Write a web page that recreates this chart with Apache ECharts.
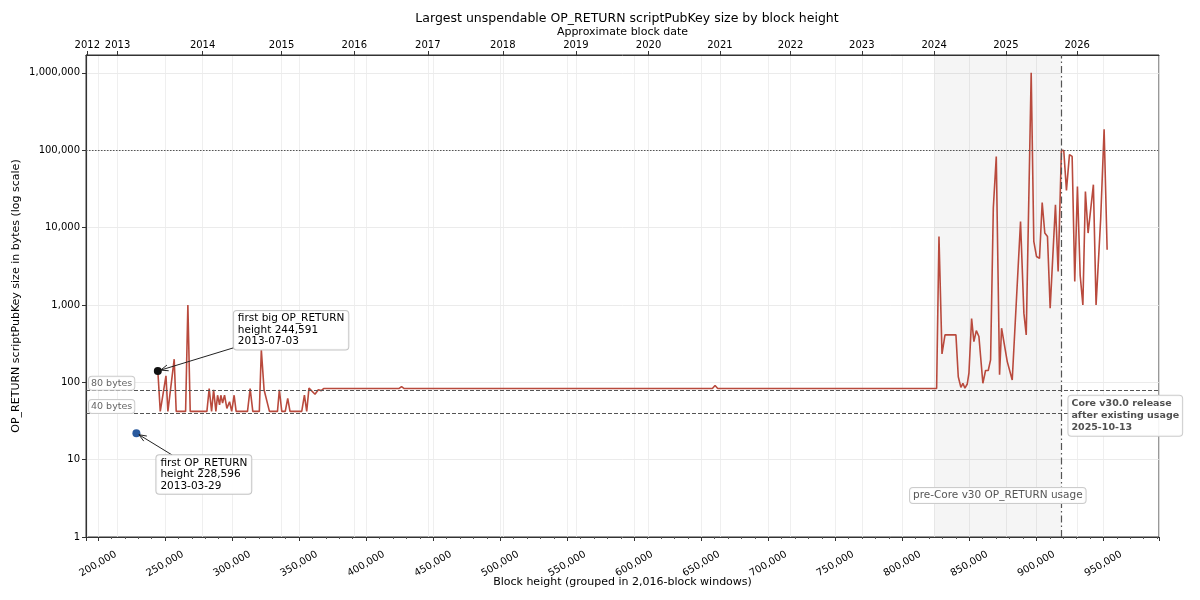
<!DOCTYPE html>
<html>
<head>
<meta charset="utf-8">
<script src="https://cdn.jsdelivr.net/npm/echarts@6/dist/echarts.min.js"></script>
<style>html,body{margin:0;background:#fff}#main{width:1200px;height:600px}</style>
</head>
<body>
<div id="main"></div>
<script>
// largest OP_RETURN scriptPubKey per 2016-block window
var heights = [244591, 246400, 250650, 252100, 256800, 258300, 265300, 267000, 268750, 281200,
  282900, 284700, 286200, 287900, 289150, 290650, 291600, 292900, 294350, 296100,
  298100, 299700, 301500, 303000, 311500, 313450, 315450, 320300, 321800, 323850,
  327850, 333850, 335250, 337050, 339650, 341500, 343200, 351950, 353950, 355650,
  357350, 361850, 364300, 366500, 368300, 424400, 426400, 428400, 658300, 660300,
  662300, 825600, 827350, 829600, 831850, 840000, 841750, 843700, 845200, 846700,
  848450, 849700, 851700, 853400, 855200, 857150, 860100, 862100, 864100, 865850,
  867900, 870100, 872550, 874050, 878300, 882000, 888200, 890700, 892450, 896150,
  898100, 900100, 902350, 904350, 906300, 908300, 910300, 914250, 916250, 918700,
  920450, 922450, 924700, 926700, 928650, 930650, 932700, 934700, 936600, 938600,
  942550, 944550, 948000, 950550, 952800];
var sizes = [140, 42, 121, 42, 199, 42, 42, 1000, 42, 42,
  83, 42, 80, 42, 68, 51, 68, 54, 68, 46,
  56, 42, 68, 42, 42, 83, 42, 42, 262, 80,
  42, 42, 80, 42, 42, 62, 42, 42, 68, 42,
  84, 70, 80, 78, 83, 83, 88, 83, 83, 91,
  83, 83, 7670, 233, 410, 410, 118, 86, 97, 84,
  95, 131, 667, 336, 466, 391, 97, 142, 142, 195,
  18000, 83000, 125, 500, 185, 107, 12000, 783, 410, 1000000,
  6610, 4230, 4000, 21100, 8490, 7670, 909, 19700, 2700, 100000,
  99000, 30200, 87500, 83000, 2010, 34000, 2400, 1000, 29300, 8490,
  35800, 1000, 13000, 186000, 5160];

// top axis: approximate first block of each year
var yearBlocks = [192000, 214563, 277996, 336861, 391182, 446033, 501961, 556459, 610691,
  663913, 716599, 769787, 823786, 877259, 930500];
var yearLabels = ['2012', '2013', '2014', '2015', '2016', '2017', '2018', '2019', '2020',
  '2021', '2022', '2023', '2024', '2025', '2026'];

var firstPoint = [228596, 22];
var bigPoint = [244591, 140];
var usageStart = 823786;
var releaseHeight = 918700;
var byteLines = [80, 40];
var highLine = 100000;

var FONT = '"DejaVu Sans", Verdana, sans-serif';
var RED = '#b94a3d';
var GREY = '#555';

function commas(v) {
  return Math.round(v).toString().replace(/\B(?=(\d{3})+(?!\d))/g, ',');
}

var chart = echarts.init(document.getElementById('main'));

var option = {
  animation: false,
  backgroundColor: '#fff',
  textStyle: { fontFamily: FONT },
  title: {
    text: 'Largest unspendable OP_RETURN scriptPubKey size by block height',
    left: 622, top: 7, textAlign: 'center',
    textStyle: { fontFamily: FONT, fontSize: 12.5, fontWeight: 'normal', color: '#000' }
  },
  grid: {
    left: 86, right: 41, top: 55, bottom: 63, containLabel: false, outerBoundsMode: 'none',
    show: true, borderColor: '#333', borderWidth: 1, backgroundColor: 'transparent'
  },
  xAxis: [{
    type: 'value', position: 'bottom', min: 191000, max: 991500,
    minInterval: 50000, maxInterval: 50000,
    name: 'Block height (grouped in 2,016-block windows)',
    nameLocation: 'middle', nameGap: 40, nameMoveOverlap: false,
    nameTextStyle: { fontFamily: FONT, fontSize: 11, color: '#000' },
    axisLine: { lineStyle: { color: '#333' } },
    axisTick: { length: 4, lineStyle: { color: '#333' } },
    minorTick: { show: true, splitNumber: 5, length: 2, lineStyle: { color: '#555' } },
    axisLabel: {
      fontFamily: FONT, fontSize: 10, color: '#000', rotate: 30, margin: 27,
      align: 'center', verticalAlign: 'middle',
      showMinLabel: false, showMaxLabel: false, formatter: commas
    },
    splitLine: { show: true, lineStyle: { color: '#ebebeb', width: 0.8 } }
  }, {
    type: 'value', position: 'top', min: 191000, max: 991500,
    name: 'Approximate block date', nameLocation: 'middle', nameGap: 17, nameMoveOverlap: false,
    nameTextStyle: { fontFamily: FONT, fontSize: 11, color: '#000' },
    axisLine: { lineStyle: { color: '#333' } },
    axisTick: { length: 4, customValues: yearBlocks, lineStyle: { color: '#333' } },
    axisLabel: {
      fontFamily: FONT, fontSize: 10, color: '#000', margin: 5,
      customValues: yearBlocks,
      formatter: function (v) {
        var i = yearBlocks.indexOf(v);
        return i >= 0 ? yearLabels[i] : '';
      }
    },
    splitLine: { show: true, lineStyle: { color: '#ebebeb', width: 0.8 } }
  }],
  yAxis: {
    type: 'log', logBase: 10, min: 1, max: 1700000,
    name: 'OP_RETURN scriptPubKey size in bytes (log scale)',
    nameLocation: 'middle', nameGap: 64, nameMoveOverlap: false,
    nameTextStyle: { fontFamily: FONT, fontSize: 11, color: '#000' },
    axisLine: { show: true, lineStyle: { color: '#333' } },
    axisTick: { show: true, length: 4, lineStyle: { color: '#333' } },
    axisLabel: { fontFamily: FONT, fontSize: 10, color: '#000', margin: 6, showMaxLabel: false, formatter: commas },
    splitLine: { show: true, lineStyle: { color: '#e6e6e6', width: 0.8 } }
  },
  series: [{
    type: 'line',
    xAxisIndex: 0,
    data: heights.map(function (h, i) { return [h, sizes[i]]; }),
    showSymbol: false,
    lineStyle: { color: RED, width: 1.6 },
    z: 3,
    markArea: {
      silent: true,
      itemStyle: { color: 'rgba(0,0,0,0.04)' },
      data: [[{ xAxis: usageStart }, { xAxis: releaseHeight }]]
    },
    markLine: {
      silent: true, symbol: 'none', label: { show: false },
      data: [
        { yAxis: byteLines[0], lineStyle: { color: GREY, type: [4, 2], width: 1 } },
        { yAxis: byteLines[1], lineStyle: { color: GREY, type: [4, 2], width: 1 } },
        { yAxis: highLine, lineStyle: { color: GREY, type: [1.5, 1.5], width: 1 } },
        { xAxis: releaseHeight, lineStyle: { color: GREY, type: [7, 3, 1.5, 3], width: 1.2 } }
      ]
    }
  }, {
    type: 'scatter', data: [firstPoint], symbolSize: 8, z: 4,
    itemStyle: { color: '#2a5a9e', opacity: 1 }
  }, {
    type: 'scatter', data: [bigPoint], symbolSize: 8, z: 4,
    itemStyle: { color: '#111', opacity: 1 }
  }]
};
chart.setOption(option);

// annotations placed relative to data coordinates
var measure = document.createElement('canvas').getContext('2d');
function boxSize(text, font, lh, pad) {
  measure.font = font;
  var lines = text.split('\n'), w = 0;
  lines.forEach(function (l) { w = Math.max(w, measure.measureText(l).width); });
  return [w + pad[1] * 2, lines.length * lh + pad[0] * 2];
}
function px(p) { return chart.convertToPixel({ xAxisIndex: 0, yAxisIndex: 0 }, p); }

function label(text, x, y, opts) {
  return {
    type: 'text', x: x, y: y, z: 20, silent: true,
    style: {
      text: text, font: opts.font, fill: opts.color || '#000',
      lineHeight: opts.lh, padding: opts.pad,
      backgroundColor: 'rgba(255,255,255,0.9)', borderColor: opts.border || '#c4c4c4',
      borderWidth: 1, borderRadius: 3,
      align: opts.align || 'left', verticalAlign: 'top'
    }
  };
}

function arrowFromBox(box, target) {
  // line from box centre to target, clipped at the box edge
  var cx = box[0] + box[2] / 2, cy = box[1] + box[3] / 2;
  var dx = target[0] - cx, dy = target[1] - cy;
  var tx = Math.abs(dx) > 0 ? (box[2] / 2) / Math.abs(dx) : Infinity;
  var ty = Math.abs(dy) > 0 ? (box[3] / 2) / Math.abs(dy) : Infinity;
  var t = Math.min(tx, ty);
  var start = [cx + dx * t, cy + dy * t];
  var len = Math.sqrt(dx * dx + dy * dy);
  var ux = dx / len, uy = dy / len;
  var tip = [target[0] - ux * 3, target[1] - uy * 3];
  var hl = 8, a = 0.38, c = Math.cos(a), s = Math.sin(a);
  var h1 = [tip[0] - hl * (ux * c - uy * s), tip[1] - hl * (uy * c + ux * s)];
  var h2 = [tip[0] - hl * (ux * c + uy * s), tip[1] - hl * (uy * c - ux * s)];
  return [
    { type: 'polyline', z: 19, silent: true, shape: { points: [start, tip] }, style: { stroke: '#222', lineWidth: 1, fill: null } },
    { type: 'polyline', z: 19, silent: true, shape: { points: [h1, tip, h2] }, style: { stroke: '#222', lineWidth: 1, fill: null } }
  ];
}

var annFont = '10.5px ' + FONT;
var annPad = [2, 4], annLh = 11.5;
var g = [];

var bigTxt = 'first big OP_RETURN\nheight 244,591\n2013-07-03';
var bigPx = px(bigPoint);
var bs = boxSize(bigTxt, annFont, annLh, annPad);
var bigBox = [bigPx[0] + 76, bigPx[1] - 60, bs[0], bs[1]];
g.push(label(bigTxt, bigBox[0], bigBox[1], { font: annFont, lh: annLh, pad: annPad }));
g = g.concat(arrowFromBox(bigBox, bigPx));

var firstTxt = 'first OP_RETURN\nheight 228,596\n2013-03-29';
var firstPx = px(firstPoint);
var fs = boxSize(firstTxt, annFont, annLh, annPad);
var firstBox = [firstPx[0] + 20, firstPx[1] + 22, fs[0], fs[1]];
g.push(label(firstTxt, firstBox[0], firstBox[1], { font: annFont, lh: annLh, pad: annPad }));
g = g.concat(arrowFromBox(firstBox, firstPx));

// byte reference labels at the left
var smallFont = '9.5px ' + FONT;
byteLines.forEach(function (b) {
  var p = px([191000, b]);
  g.push(label(b + ' bytes', p[0] + 3, p[1] - 13, { font: smallFont, lh: 11, pad: [1, 2], color: '#666', border: '#ccc' }));
});

// release note
var relPx = px([releaseHeight, 67]);
g.push(label('Core v30.0 release\nafter existing usage\n2025-10-13', relPx[0] + 7, relPx[1],
  { font: 'bold 9.5px ' + FONT, lh: 12, pad: [2, 3], color: '#505050', border: '#ccc' }));

// shaded-region note
var midPx = px([(usageStart + releaseHeight) / 2, 3.4]);
g.push(label('pre-Core v30 OP_RETURN usage', midPx[0], midPx[1] - 8,
  { font: '10.5px ' + FONT, lh: 13, pad: [1, 3], color: '#555', border: '#ccc', align: 'center' }));

chart.setOption({ graphic: g });
</script>
</body>
</html>
